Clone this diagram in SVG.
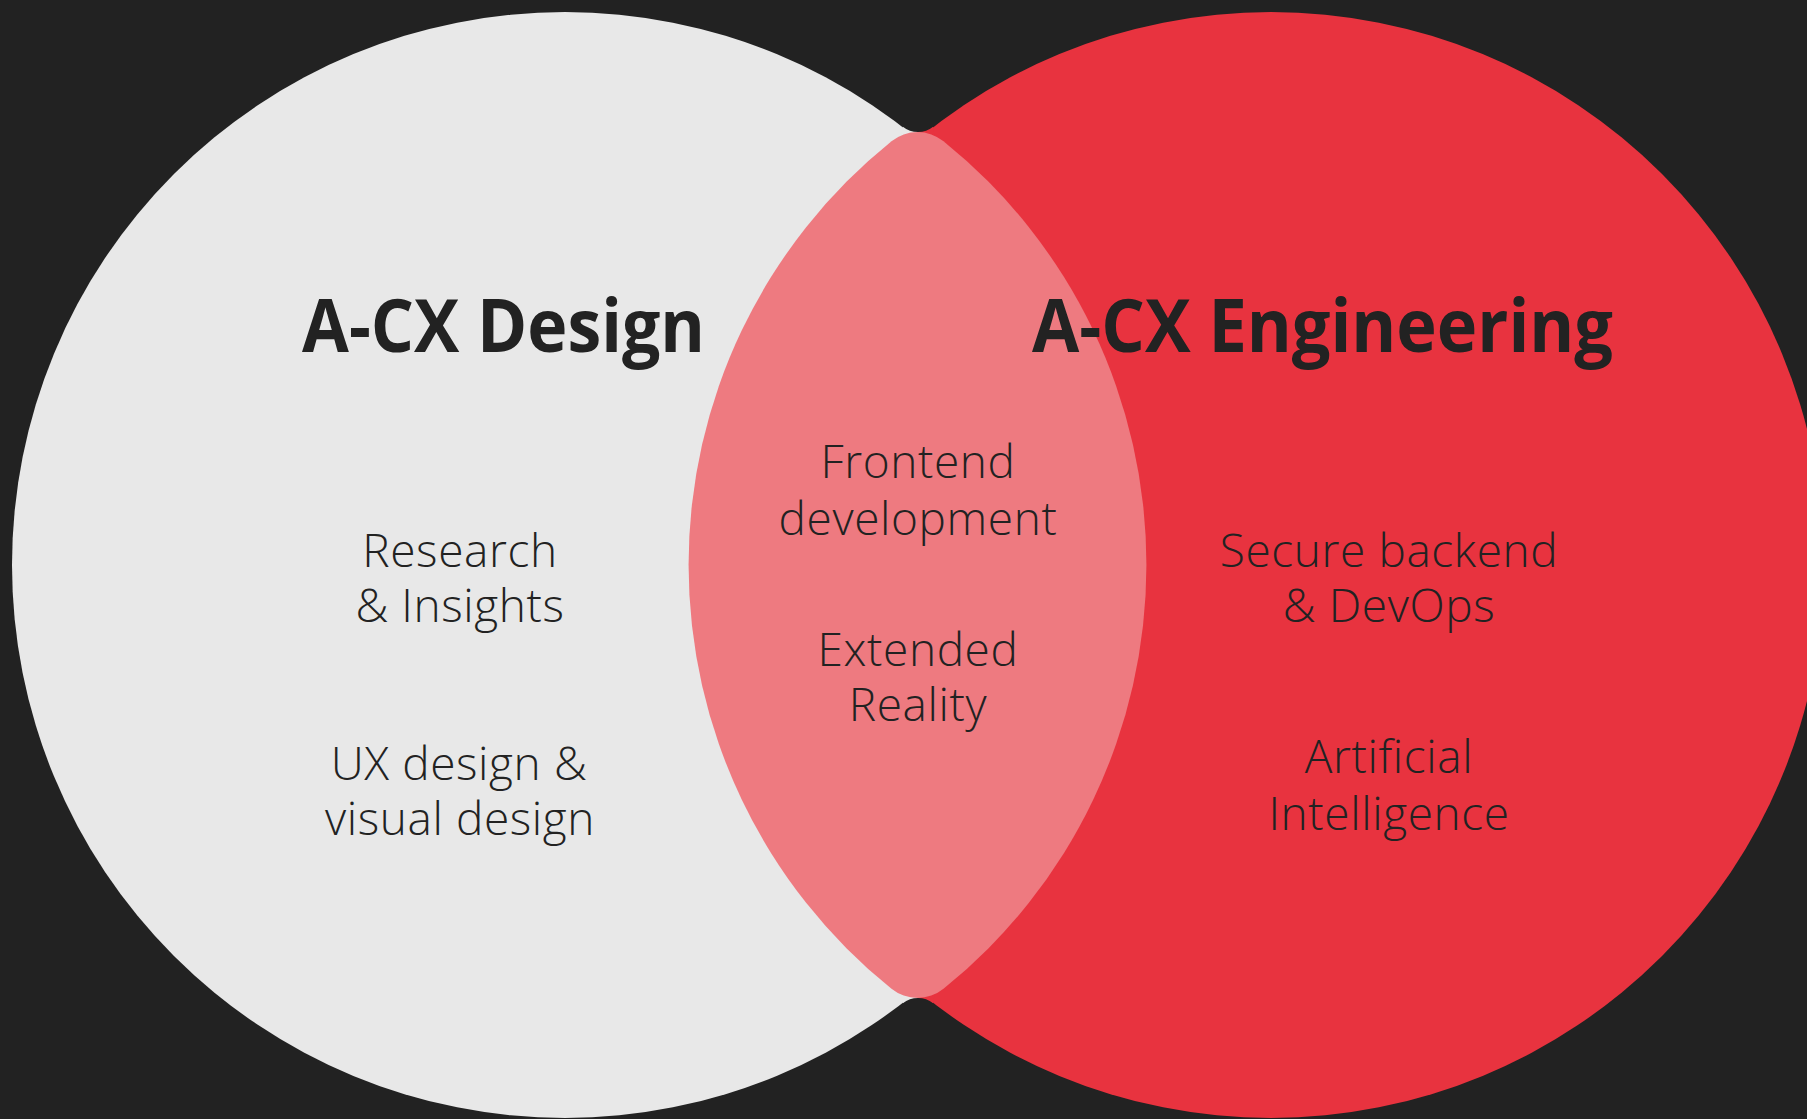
<svg xmlns="http://www.w3.org/2000/svg" width="1807" height="1119" viewBox="0 0 1807 1119">
  <style>
    .title { font-family: "Open Sans", "Noto Sans", "DejaVu Sans", sans-serif; font-weight: 700; font-size: 74px; fill: #222222; text-anchor: middle; }
    .body { font-family: "Open Sans", "Noto Sans", "DejaVu Sans", sans-serif; font-weight: 300; font-size: 46px; letter-spacing: 0.6px; fill: #222222; text-anchor: middle; }
    .gray { fill: #e8e8e8; }
    .red { fill: #e8333f; }
    .lens { fill: #ee7a80; }
  </style>
  <rect x="0" y="0" width="1807" height="1119" fill="#222222"/>
  <g id="design-circle">
    <circle class="gray" cx="565" cy="565" r="553"/>
  </g>
  <g id="engineering-circle">
    <circle class="red" cx="1271" cy="565" r="553"/>
  </g>
  <g id="neck-fillets">
    <path class="gray" d="M902.8,126.7 A25,25 0 0 0 918,132 L918,145 L900,145 Z"/>
    <path class="red" d="M933.2,126.7 A25,25 0 0 1 918,132 L918,145 L936,145 Z"/>
    <path class="gray" d="M902.8,1003.3 A25,25 0 0 1 918,998 L918,985 L900,985 Z"/>
    <path class="red" d="M933.2,1003.3 A25,25 0 0 0 918,998 L918,985 L936,985 Z"/>
  </g>
  <g id="overlap">
    <path class="lens" d="M891.5,141.2 A41.5,41.5 0 0 1 943.5,141.2 A544,544 0 0 1 943.5,988.8 A41.5,41.5 0 0 1 891.5,988.8 A544,544 0 0 1 891.5,141.2 Z"/>
  </g>
  <g id="connectors"></g>
  <g id="design-labels">
    <text class="title" x="503.5" y="352" textLength="403" lengthAdjust="spacingAndGlyphs">A-CX Design</text>
    <text class="body" x="460" y="567">Research</text>
    <text class="body" x="460" y="622">&amp; Insights</text>
    <text class="body" x="459" y="780">UX design &amp;</text>
    <text class="body" x="460" y="835">visual design</text>
  </g>
  <g id="overlap-labels">
    <text class="body" x="918" y="478">Frontend</text>
    <text class="body" x="918" y="535">development</text>
    <text class="body" x="918" y="666">Extended</text>
    <text class="body" x="918" y="721">Reality</text>
  </g>
  <g id="engineering-labels">
    <text class="title" x="1322.5" y="352" textLength="581" lengthAdjust="spacingAndGlyphs">A-CX Engineering</text>
    <text class="body" x="1389" y="567">Secure backend</text>
    <text class="body" x="1389" y="622">&amp; DevOps</text>
    <text class="body" x="1389" y="773">Artificial</text>
    <text class="body" x="1389" y="830">Intelligence</text>
  </g>
</svg>
